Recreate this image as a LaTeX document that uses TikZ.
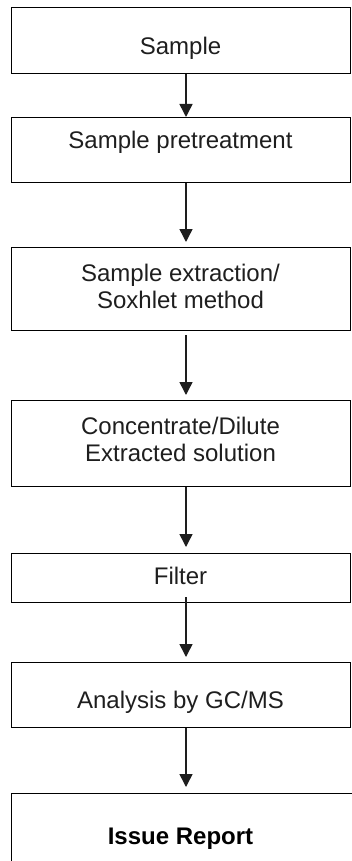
\documentclass[tikz,border=0pt]{standalone}
\usepackage{fontspec}
\setmainfont{Liberation Sans}
\usetikzlibrary{arrows.meta}
\definecolor{ink}{HTML}{1E1E1E}
\tikzset{
  box/.style={draw=black, line width=1.3pt, rectangle, inner sep=0pt, anchor=north west},
  txt/.style={text=ink, inner sep=0pt, anchor=base, font=\fontsize{24}{27}\selectfont},
  arr/.style={draw=ink, line width=1.5pt, -{Triangle[width=13pt,length=13pt]}}
}
\begin{document}
\begin{tikzpicture}[x=1pt,y=-1pt]
\path[use as bounding box] (0,0) rectangle (352,861);
\clip (0,0) rectangle (352,861);
\coordinate (ax) at (186,0);
% boxes
\node[box, minimum width=339pt, minimum height=66pt] (b1) at (11,7) {};
\node[box, minimum width=339pt, minimum height=65pt] (b2) at (11,117) {};
\node[box, minimum width=339pt, minimum height=83pt] (b3) at (11,247) {};
\node[box, minimum width=339pt, minimum height=86pt] (b4) at (11,400) {};
\node[box, minimum width=339pt, minimum height=49pt] (b5) at (11,553) {};
\node[box, minimum width=339pt, minimum height=65pt] (b6) at (11,662) {};
\node[box, minimum width=360pt, minimum height=100pt] (b7) at (11,793) {};
% texts
\node[txt] (t1) at (180.5,55) {Sample};
\node[txt] (t2) at (180.5,149) {Sample pretreatment};
\node[txt] (t3a) at (180.5,281) {Sample extraction/};
\node[txt] (t3b) at (180.5,308) {Soxhlet method};
\node[txt] (t4a) at (180.5,434) {Concentrate/Dilute};
\node[txt] (t4b) at (180.5,461) {Extracted solution};
\node[txt] (t5) at (180.5,584) {Filter};
\node[txt] (t6) at (180.5,708) {Analysis by GC/MS};
\node[txt, text=black, font=\fontsize{24}{27}\selectfont\bfseries] (t7) at (180.5,844) {Issue Report};
% arrows
\draw[arr] (b1.south -| ax) -- (b2.north -| ax);
\draw[arr, shorten >=5pt] (b2.south -| ax) -- (b3.north -| ax);
\draw[arr, shorten >=5pt, shorten <=4pt] (b3.south -| ax) -- (b4.north -| ax);
\draw[arr, shorten >=6pt] (b4.south -| ax) -- (b5.north -| ax);
\draw[arr, shorten >=5pt, shorten <=-6pt] (b5.south -| ax) -- (b6.north -| ax);
\draw[arr, shorten >=6pt] (b6.south -| ax) -- (b7.north -| ax);
\end{tikzpicture}
\end{document}
